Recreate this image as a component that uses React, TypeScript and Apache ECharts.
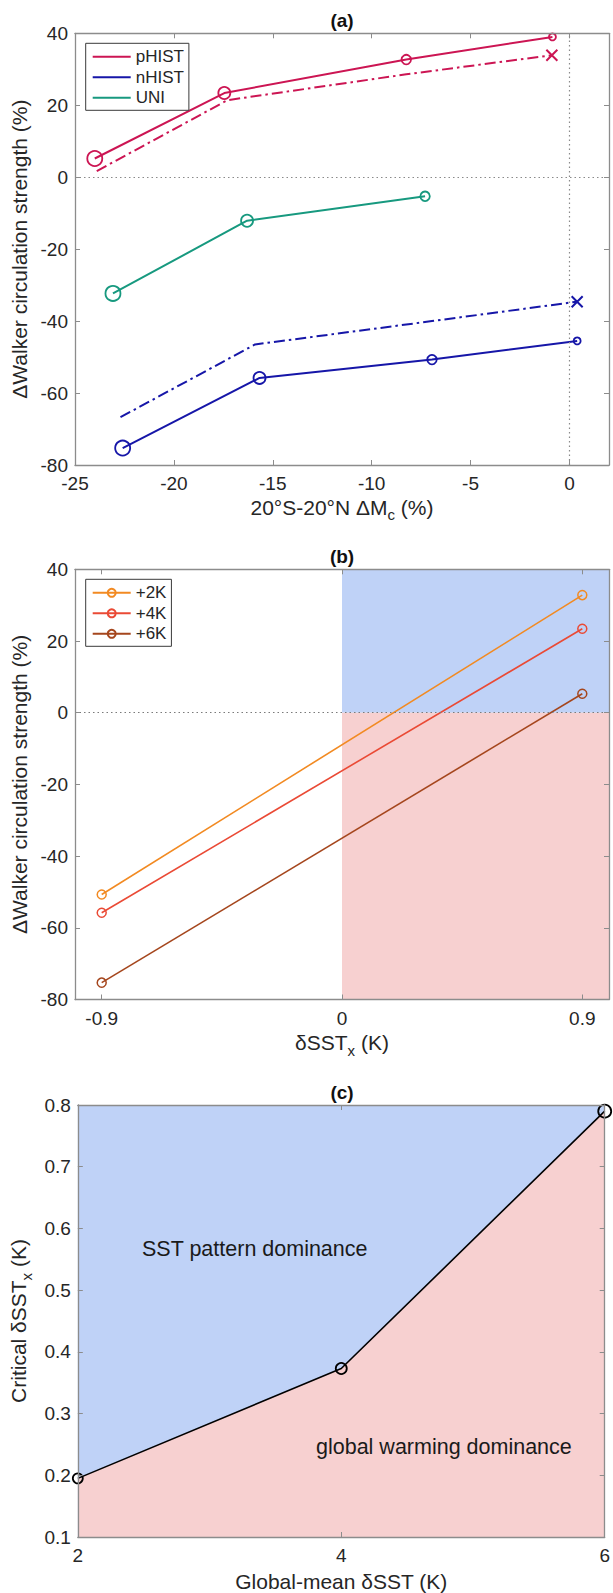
import React, { useEffect, useRef } from 'react';
import * as echarts from 'echarts';

const FONT = '"Liberation Sans", Arial, Helvetica, sans-serif';
const TXT = '#262626';
const AX = '#8c8c8c';

// ---------- Panel (a) ----------
const pHistX = [-24.0, -17.45, -8.25, -0.86];
const pHistY = [5.2, 23.4, 32.7, 39.0];
const pHistDashX = [-23.9, -17.3, -8.25, -0.89];
const pHistDashY = [1.7, 21.4, 28.6, 33.9];
const nHistX = [-22.59, -15.67, -6.95, 0.39];
const nHistY = [-75.3, -55.8, -50.7, -45.5];
const nHistDashX = [-22.7, -15.9, -6.95, 0.39];
const nHistDashY = [-66.7, -46.5, -40.0, -34.6];
const uniX = [-23.08, -16.3, -7.3];
const uniY = [-32.3, -12.1, -5.3];
const aXTicks = [-25, -20, -15, -10, -5, 0];

// ---------- Panel (b) ----------
const bX = [-0.9, 0.9];
const b2K = [-50.7, 32.8];
const b4K = [-55.8, 23.4];
const b6K = [-75.3, 5.3];
const bXTicks = [-0.9, 0, 0.9];

// ---------- Panel (c) ----------
const cX = [2, 4, 6];
const cY = [0.195, 0.373, 0.79];

// styles
const aMarkerSizes = [15, 12, 9.5, 7];
const cMarkerSizes = [10, 11, 13];
const C_P = '#cc1553';
const C_N = '#1616a8';
const C_U = '#17997f';
const C_2K = '#f28a22';
const C_4K = '#ea4a35';
const C_6K = '#a5461d';
const BLUE = '#bfd2f7';
const PINK = '#f7d0d0';
const XPATH = 'path://M0,0L10,10M10,0L0,10';

const tickStyle = { color: TXT, fontSize: 19, fontFamily: FONT };
const nameStyle = { color: TXT, fontSize: 21, fontFamily: FONT };
const richName = {
  rich: {
    a: { fontSize: 21, fontFamily: FONT, color: TXT, lineHeight: 30 },
    b: { fontSize: 15, fontFamily: FONT, color: TXT, verticalAlign: 'bottom' },
  },
};

function xPair(gridIndex: number, min: number, max: number, opts: any) {
  const common: any = {
    type: 'value',
    gridIndex,
    min,
    max,
    z: 5,
    splitLine: { show: false },
    axisLine: { show: true, onZero: false, lineStyle: { color: AX, width: 1.3 } },
    axisTick: { show: true, inside: true, length: 5, lineStyle: { color: AX, width: 1 } },
  };
  if (opts.interval !== undefined) common.interval = opts.interval;
  if (opts.ticks) common.axisTick.customValues = opts.ticks;
  const bottom = {
    ...common,
    position: 'bottom',
    axisTick: { ...common.axisTick },
    axisLabel: {
      ...tickStyle,
      margin: 9,
      ...(opts.ticks ? { customValues: opts.ticks } : {}),
    },
    name: opts.name,
    nameLocation: 'middle',
    nameGap: opts.nameGap,
    nameTextStyle: opts.rich ? richName : nameStyle,
  };
  const top = { ...common, position: 'top', axisLabel: { show: false } };
  return [bottom, top];
}

function yPair(gridIndex: number, min: number, max: number, interval: number, opts: any) {
  const common: any = {
    type: 'value',
    gridIndex,
    min,
    max,
    interval,
    z: 5,
    splitLine: { show: false },
    axisLine: { show: true, onZero: false, lineStyle: { color: AX, width: 1.3 } },
    axisTick: { show: true, inside: true, length: 5, lineStyle: { color: AX, width: 1 } },
  };
  const left = {
    ...common,
    position: 'left',
    axisLabel: { ...tickStyle, margin: 7, ...(opts.formatter ? { formatter: opts.formatter } : {}) },
    name: opts.name,
    nameLocation: 'middle',
    nameRotate: 90,
    nameGap: opts.nameGap,
    nameTextStyle: opts.rich ? richName : nameStyle,
  };
  const right = { ...common, position: 'right', axisLabel: { show: false } };
  return [left, right];
}

function circleSeries(name: string, xs: number[], ys: number[], sizes: number[], color: string, xi: number, extra: any = {}) {
  return {
    name,
    type: 'line',
    xAxisIndex: xi,
    yAxisIndex: xi,
    symbol: 'circle',
    data: xs.map((x, i) => ({ value: [x, ys[i]], symbolSize: sizes[i] })),
    lineStyle: { color, width: 2 },
    itemStyle: { color: 'rgba(0,0,0,0)', borderColor: color, borderWidth: 1.8 },
    z: 3,
    silent: true,
    ...extra,
  };
}

function dashSeries(name: string, xs: number[], ys: number[], color: string) {
  return {
    name,
    type: 'line',
    xAxisIndex: 0,
    yAxisIndex: 0,
    symbol: 'circle',
    data: xs.map((x, i) =>
      i === xs.length - 1
        ? { value: [x, ys[i]], symbol: XPATH, symbolSize: 11 }
        : { value: [x, ys[i]], symbol: 'none' }
    ),
    lineStyle: { color, width: 2, type: [11, 4, 2.5, 4] },
    itemStyle: { color, borderColor: color, borderWidth: 2 },
    z: 3,
    silent: true,
  };
}

const titleStyle = (t: string) => ({ text: t, font: `bold 19px ${FONT}`, fill: '#111', textAlign: 'center', textVerticalAlign: 'middle' });

const App: React.FC = () => {
  const ref = useRef<HTMLDivElement>(null);
  useEffect(() => {
    if (!ref.current) return;
    const chart = echarts.init(ref.current, null, { renderer: 'svg' });

    const xa = xPair(0, -25, 2, {
      ticks: aXTicks,
      name: '{a|20°S-20°N ΔM}{b|c}{a| (%)}',
      rich: true,
      nameGap: 27,
    });
    const xb = xPair(1, -1, 1, {
      ticks: bXTicks,
      name: '{a|δSST}{b|x}{a| (K)}',
      rich: true,
      nameGap: 28,
    });
    const xc = xPair(2, 2, 6, { interval: 2, name: 'Global-mean δSST (K)', nameGap: 34 });
    const ya = yPair(0, -80, 40, 20, { name: 'ΔWalker circulation strength (%)', nameGap: 38 });
    const yb = yPair(1, -80, 40, 20, { name: 'ΔWalker circulation strength (%)', nameGap: 38 });
    const yc = yPair(2, 0.1, 0.8, 0.1, {
      name: '{a|Critical δSST}{b|x}{a| (K)}',
      rich: true,
      nameGap: 40,
      formatter: (v: number) => v.toFixed(1),
    });

    const legendCommon = {
      orient: 'vertical',
      itemWidth: 38,
      itemGap: 3.5,
      padding: [5, 5, 4, 6],
      borderColor: '#3a3a3a',
      borderWidth: 1,
      backgroundColor: '#ffffff',
      textStyle: { color: TXT, fontSize: 17, fontFamily: FONT },
      selectedMode: false,
      z: 10,
    };

    const option: any = {
      animation: false,
      textStyle: { fontFamily: FONT },
      grid: [
        { left: 75, top: 33.3, width: 534, height: 431.7, containLabel: false },
        { left: 75, top: 569.3, width: 534, height: 430.2, containLabel: false },
        {
          left: 75,
          top: 1105,
          width: 534,
          height: 432,
          containLabel: false,
          show: true,
          backgroundColor: BLUE,
          borderWidth: 0,
        },
      ],
      xAxis: [...xa, ...xb, ...xc],
      yAxis: [...ya, ...yb, ...yc],
      legend: [
        {
          ...legendCommon,
          left: 85.7,
          top: 43.3,
          itemHeight: 14,
          itemStyle: { opacity: 0, borderWidth: 0 },
          data: ['pHIST', 'nHIST', 'UNI'],
        },
        {
          ...legendCommon,
          left: 85.7,
          top: 579.3,
          itemHeight: 10,
          data: ['+2K', '+4K', '+6K'],
        },
      ],
      graphic: [
        { type: 'text', x: 342, y: 20, style: titleStyle('(a)') },
        { type: 'text', x: 342, y: 556.5, style: titleStyle('(b)') },
        { type: 'text', x: 342, y: 1092, style: titleStyle('(c)') },
        {
          type: 'text',
          x: 142,
          y: 1248.5,
          z: 20,
          style: { text: 'SST pattern dominance', font: `21.5px ${FONT}`, fill: '#1a1a1a', textAlign: 'left', textVerticalAlign: 'middle' },
        },
        {
          type: 'text',
          x: 316,
          y: 1447,
          z: 20,
          style: { text: 'global warming dominance', font: `21.5px ${FONT}`, fill: '#1a1a1a', textAlign: 'left', textVerticalAlign: 'middle' },
        },
      ],
      series: [
        // panel (a)
        circleSeries('pHIST', pHistX, pHistY, aMarkerSizes, C_P, 0),
        circleSeries('nHIST', nHistX, nHistY, aMarkerSizes, C_N, 0),
        circleSeries('UNI', uniX, uniY, aMarkerSizes, C_U, 0, {
          markLine: {
            silent: true,
            symbol: ['none', 'none'],
            label: { show: false },
            lineStyle: { type: [1.5, 3], color: '#8a8a8a', width: 1.2 },
            data: [{ yAxis: 0 }, { xAxis: 0 }],
          },
        }),
        dashSeries('pHIST_dash', pHistDashX, pHistDashY, C_P),
        dashSeries('nHIST_dash', nHistDashX, nHistDashY, C_N),
        // panel (b)
        {
          name: 'bg',
          type: 'line',
          xAxisIndex: 2,
          yAxisIndex: 2,
          data: [],
          z: 1,
          silent: true,
          markArea: {
            silent: true,
            data: [
              [
                { xAxis: 0, yAxis: 0, itemStyle: { color: BLUE } },
                { xAxis: 1, yAxis: 40 },
              ],
              [
                { xAxis: 0, yAxis: -80, itemStyle: { color: PINK } },
                { xAxis: 1, yAxis: 0 },
              ],
            ],
          },
          markLine: {
            silent: true,
            symbol: ['none', 'none'],
            label: { show: false },
            lineStyle: { type: [1.5, 3], color: '#7a7a7a', width: 1.2 },
            data: [{ yAxis: 0 }],
          },
        },
        circleSeries('+2K', bX, b2K, [9, 9], C_2K, 2, { lineStyle: { color: C_2K, width: 1.6 }, itemStyle: { color: 'rgba(0,0,0,0)', borderColor: C_2K, borderWidth: 1.5 } }),
        circleSeries('+4K', bX, b4K, [9, 9], C_4K, 2, { lineStyle: { color: C_4K, width: 1.6 }, itemStyle: { color: 'rgba(0,0,0,0)', borderColor: C_4K, borderWidth: 1.5 } }),
        circleSeries('+6K', bX, b6K, [9, 9], C_6K, 2, { lineStyle: { color: C_6K, width: 1.6 }, itemStyle: { color: 'rgba(0,0,0,0)', borderColor: C_6K, borderWidth: 1.5 } }),
        // panel (c)
        {
          name: 'critical',
          type: 'line',
          xAxisIndex: 4,
          yAxisIndex: 4,
          symbol: 'circle',
          data: cX.map((x, i) => ({ value: [x, cY[i]], symbolSize: cMarkerSizes[i] })),
          lineStyle: { color: '#000', width: 1.6 },
          itemStyle: { color: 'rgba(0,0,0,0)', borderColor: '#000', borderWidth: 1.8 },
          areaStyle: { color: PINK, opacity: 1, origin: 'start' },
          clip: false,
          z: 3,
          silent: true,
        },
      ],
    };

    chart.setOption(option);
    return () => chart.dispose();
  }, []);

  return (
    <div
      ref={ref}
      style={{ position: 'absolute', left: 0, top: 0, width: 613, height: 1593, background: '#fff' }}
    />
  );
};

export default App;
